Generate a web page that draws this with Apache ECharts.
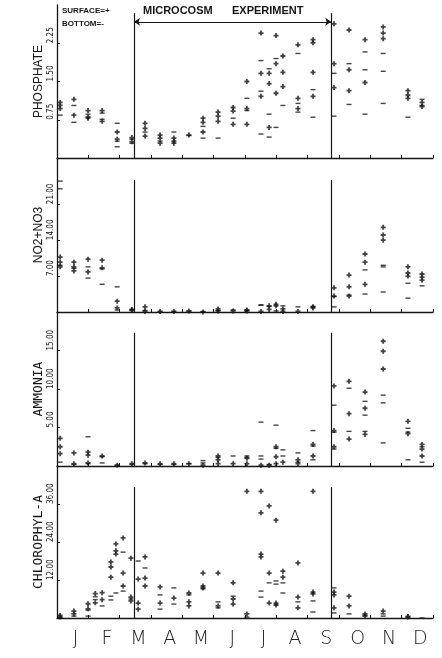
<!DOCTYPE html>
<html>
<head>
<meta charset="utf-8">
<script src="https://cdn.jsdelivr.net/npm/echarts@6/dist/echarts.min.js"></script>
<style>
  html, body { margin: 0; padding: 0; background: #fff; }
  #chart { width: 442px; height: 658px; }
</style>
</head>
<body>
<div id="chart"></div>
<script>
// month letters under the bottom panel
var months = ['J', 'F', 'M', 'A', 'M', 'J', 'J', 'A', 'S', 'O', 'N', 'D'];

// sampling dates, in months from 1 Jan (phosphate, NO2+NO3, ammonia)
var sampleMonths = [0.10, 0.54, 0.99, 1.44, 1.92, 2.39, 2.81, 3.29, 3.73, 4.21, 4.66, 5.14, 5.62,
  6.06, 6.51, 6.77, 6.99, 7.21, 7.69, 8.17, 8.84, 9.32, 9.83, 10.41, 11.20, 11.65];

// chlorophyll was sampled more often in February
var chlMonths = [0.10, 0.54, 0.99, 1.22, 1.44, 1.72, 1.88, 2.11, 2.36, 2.59, 2.81, 3.29, 3.73, 4.21,
  4.66, 5.14, 5.62, 6.06, 6.51, 6.77, 6.99, 7.21, 7.69, 8.17, 8.84, 9.32, 9.83, 10.41, 11.20, 11.65];

// experiment period (mid March - late September)
var experimentStart = 2.46;
var experimentEnd = 8.75;

var phosSurface = [[1.09, 1.03, 0.97], [1.15, 0.84], [0.93, 0.80, 0.78], [0.93, 0.72], [0.51, 0.37],
  [0.40, 0.32], [0.68, 0.58, 0.43], [0.45, 0.39, 0.29], [0.39, 0.33, 0.29], [0.45], [0.78, 0.70, 0.51],
  [0.90, 0.82, 0.72], [0.99, 0.92, 0.66], [1.50, 0.97, 0.66], [2.45, 1.66, 1.21], [1.66, 1.46, 0.60],
  [2.40, 1.85, 1.27], [2.00, 1.68, 1.40], [2.22, 1.17, 0.97], [2.32, 2.26, 1.68, 1.21], [2.63, 1.85, 1.38],
  [2.51, 1.73, 1.32], [2.32, 1.48], [2.57, 2.45, 2.34], [1.32, 1.23, 1.17], [1.09, 1.01]];
var phosBottom = [[0.84], [1.03, 0.70], [0.86], [0.88, 0.76], [0.68, 0.33, 0.22], [0.37, 0.29], [0.51],
  [0.33], [0.51], [0.44], [0.62, 0.39], [0.39], [0.78], [1.17, 0.93], [1.91, 1.31, 0.47], [1.75, 0.86, 0.41],
  [1.95, 0.60], [1.03], [2.05, 1.07, 0.90], [1.34, 0.80], [1.66, 0.82], [1.85, 1.05], [2.08, 1.73, 0.86],
  [2.05, 1.70, 1.07], [0.80], [1.15, 1.03]];

var no3Surface = [[10.7, 9.7, 8.8], [9.7, 8.8, 8.0], [10.3, 7.8], [10.1, 8.6], [2.1, 0.8], [0.5, 0.3],
  [1.0, 0.1], [0.1], [0.1], [0.2], [0.0], [0.6, 0.2], [0.2], [0.4, 0.2], [0.1], [1.2, 0.5], [1.5, 1.2],
  [0.6, 0.1], [0.1], [1.0, 0.8], [4.7, 3.1], [7.2, 4.9, 3.1], [11.3, 9.7, 5.4], [16.5, 15.0, 14.0],
  [8.8, 7.6, 7.0], [7.4, 6.8, 6.2]];
var no3Bottom = [[25.5, 24.0, 9.1], [8.5], [8.8, 6.6], [8.4, 5.4], [4.9, 0.4], [0.4], [0.3], [0.0], [0.1],
  [0.1], [0.1], [0.3], [0.4], [0.3], [1.4, 1.3], [1.1], [0.2], [1.2], [1.0], [1.1], [3.0, 1.0], [3.3],
  [8.2, 3.5], [9.1, 8.8, 3.9], [5.6, 2.7], [5.1]];

var nh4Surface = [[3.6, 2.5, 1.6], [1.7, 0.3], [1.8, 1.4, 0.4], [1.3], [0.1], [0.3], [0.4], [0.3], [0.3],
  [0.3], [0.1], [1.3, 0.8, 0.3], [0.3], [1.0, 0.3], [0.1], [0.1], [2.5, 1.2, 0.3], [0.5], [0.8, 0.3],
  [2.8, 1.3], [10.4, 4.6, 2.5], [11.0, 6.8, 3.5], [9.6, 7.5, 4.1], [16.2, 14.9, 12.6], [5.8, 4.2],
  [2.8, 2.2, 1.3]];
var nh4Bottom = [[0.5], [0.2], [3.8, 0.3], [1.2, 0.4], [0.1], [0.2], [0.3], [0.2], [0.2], [0.3], [0.7, 0.4],
  [1.1], [1.3], [1.3, 1.1], [5.7, 1.3, 0.9], [0.2], [5.3, 2.3], [2.1, 1.3], [1.7, 0.5], [4.6, 2.6, 0.8],
  [7.9, 4.4, 2.2], [10.1, 4.5], [8.4, 6.6, 4.5], [9.2, 8.2, 3.0], [4.9, 4.4, 0.8], [2.5, 0.5]];

var chlSurface = [[0.3, 0.8], [2.2, 1.3], [4.5, 2.9], [7.7, 4.8], [8.0, 5.8], [17.7, 16.1, 12.9],
  [23.4, 21.2, 20.2], [25.3, 14.2, 10.1], [18.9, 6.6, 5.4], [12.3, 4.7, 2.8], [19.3, 12.6, 10.1],
  [9.8, 4.7], [6.3], [7.9, 5.1, 3.8], [14.2, 10.1, 9.5], [14.2, 3.8], [11.1, 6.0, 4.4], [40.0, 1.3],
  [40.0, 33.2, 20.2, 19.3], [35.4, 14.2, 4.7], [30.9, 4.7, 4.1], [14.8, 12.9], [17.4, 6.6, 3.2],
  [40.0, 8.2, 7.6], [8.2, 7.3, 3.2], [6.9, 3.8], [1.3, 0.6], [2.2], [0.3, 0.5], []];
var chlBottom = [[0.2], [0.6], [2.5, 0.6], [6.7, 5.8], [3.8], [6.9, 5.7], [7.9], [20.8, 8.5], [6.0], [18.0],
  [15.8], [7.3, 2.8], [9.5, 4.4], [7.3], [9.2], [5.1, 3.2], [6.9], [0.3], [8.5, 6.6], [11.1], [11.7, 10.7],
  [11.1, 7.9], [5.1], [5.4, 1.9], [9.5, 1.6], [1.3], [0.9], [1.3, 0.6], [], [0.0]];

var panelNames = ['PHOSPHATE', 'NO2+NO3', 'AMMONIA', 'CHLOROPHYL-A'];
var panelMax = [3.0, 30, 20, 48];
var panelTicks = [[0.75, 1.5, 2.25], [7, 14, 21], [5, 10, 15], [12, 24, 36]];
var lineTops = [2.84, 25.7, 17.3, 41.4];   // where the experiment lines stop in each panel
var arrowLevel = 2.67;

var panelDates = [sampleMonths, sampleMonths, sampleMonths, chlMonths];
var panelSurface = [phosSurface, no3Surface, nh4Surface, chlSurface];
var panelBottom = [phosBottom, no3Bottom, nh4Bottom, chlBottom];

var gridTops = [5, 158, 312, 466];
var gridHeights = [153, 154, 154, 152];

var ink = '#151515';
var plusPath = 'path://M1.6,0H3.4V1.6H5V3.4H3.4V5H1.6V3.4H0V1.6H1.6Z';

function toPoints(dates, values) {
  var out = [];
  for (var i = 0; i < dates.length; i++) {
    var col = values[i] || [];
    for (var j = 0; j < col.length; j++) {
      out.push([dates[i], col[j]]);
    }
  }
  return out;
}

var chart = echarts.init(document.getElementById('chart'), null, {renderer: 'canvas'});

var grids = [], xAxes = [], yAxes = [], series = [];
for (var p = 0; p < 4; p++) {
  grids.push({left: 57, right: 9, top: gridTops[p], height: gridHeights[p]});
  xAxes.push({
    type: 'value', gridIndex: p, min: 0, max: 12,
    axisLine: {show: true, onZero: false, lineStyle: {color: ink, width: 1.3}},
    axisTick: {show: true, inside: true, length: 3, customValues: [1, 2, 3, 4, 5, 6, 7, 8, 9, 10, 11, 12],
      lineStyle: {color: ink, width: 1}},
    axisLabel: {show: false},
    splitLine: {show: false}
  });
  var mono = p >= 2;
  yAxes.push({
    type: 'value', gridIndex: p, min: 0, max: panelMax[p],
    name: panelNames[p], nameLocation: 'middle', nameRotate: 90, nameGap: 12,
    nameMoveOverlap: false,
    nameTextStyle: {
      color: ink,
      fontFamily: mono ? '"DejaVu Sans Mono", monospace' : '"Liberation Sans", Arial, sans-serif',
      fontSize: mono ? 13 : 12
    },
    axisLine: {show: true, lineStyle: {color: ink, width: 1.3}},
    axisTick: {show: true, inside: true, length: 3, customValues: panelTicks[p], lineStyle: {color: ink}},
    axisLabel: {
      show: true, customValues: panelTicks[p], rotate: 90, margin: 2,
      align: 'left', verticalAlign: 'bottom',
      fontSize: 8, color: ink,
      fontFamily: '"Liberation Sans Narrow", "DejaVu Sans Condensed", sans-serif',
      formatter: function (v) { return v.toFixed(2); }
    },
    splitLine: {show: false}
  });

  var lines = [
    [{coord: [experimentStart, 0]}, {coord: [experimentStart, lineTops[p]]}],
    [{coord: [experimentEnd, 0]}, {coord: [experimentEnd, lineTops[p]]}]
  ];
  if (p === 0) {
    lines.push([{coord: [experimentStart, arrowLevel], symbol: 'arrow'},
      {coord: [experimentEnd, arrowLevel], symbol: 'arrow'}]);
  }

  series.push({
    type: 'scatter', xAxisIndex: p, yAxisIndex: p,
    symbol: plusPath, symbolSize: 5,
    itemStyle: {color: ink},
    data: toPoints(panelDates[p], panelSurface[p]),
    silent: true,
    markLine: {
      silent: true, symbol: 'none', symbolSize: 6,
      label: {show: false},
      lineStyle: {color: ink, width: 1.2, type: 'solid'},
      data: lines
    }
  });
  series.push({
    type: 'scatter', xAxisIndex: p, yAxisIndex: p,
    symbol: 'rect', symbolSize: [5, 1.4],
    itemStyle: {color: ink},
    data: toPoints(panelDates[p], panelBottom[p]),
    silent: true
  });
}

// month letters, centred in each month band
xAxes.push({
  type: 'category', gridIndex: 3, position: 'bottom', data: months, boundaryGap: true,
  axisLine: {show: false}, axisTick: {show: false}, splitLine: {show: false},
  axisLabel: {
    show: true, margin: 12, fontSize: 19, color: '#222', padding: [0, 0, 0, 6],
    fontFamily: '"DejaVu Sans", sans-serif', fontWeight: 200
  }
});

var option = {
  animation: false,
  backgroundColor: '#fff',
  grid: grids,
  xAxis: xAxes,
  yAxis: yAxes,
  series: series,
  graphic: [
    {type: 'text', left: 62, top: 7, style: {text: 'SURFACE=+', fontSize: 8, fontWeight: 'bold',
      fontFamily: '"Liberation Sans", Arial, sans-serif', fill: ink}},
    {type: 'text', left: 62, top: 20, style: {text: 'BOTTOM=-', fontSize: 8, fontWeight: 'bold',
      fontFamily: '"Liberation Sans", Arial, sans-serif', fill: ink}},
    {type: 'text', left: 143, top: 5, style: {text: 'MICROCOSM', fontSize: 11, fontWeight: 'bold',
      fontFamily: '"Liberation Sans", Arial, sans-serif', fill: ink}},
    {type: 'text', left: 232, top: 5, style: {text: 'EXPERIMENT', fontSize: 11, fontWeight: 'bold',
      fontFamily: '"Liberation Sans", Arial, sans-serif', fill: ink}}
  ]
};

chart.setOption(option);
</script>
</body>
</html>
